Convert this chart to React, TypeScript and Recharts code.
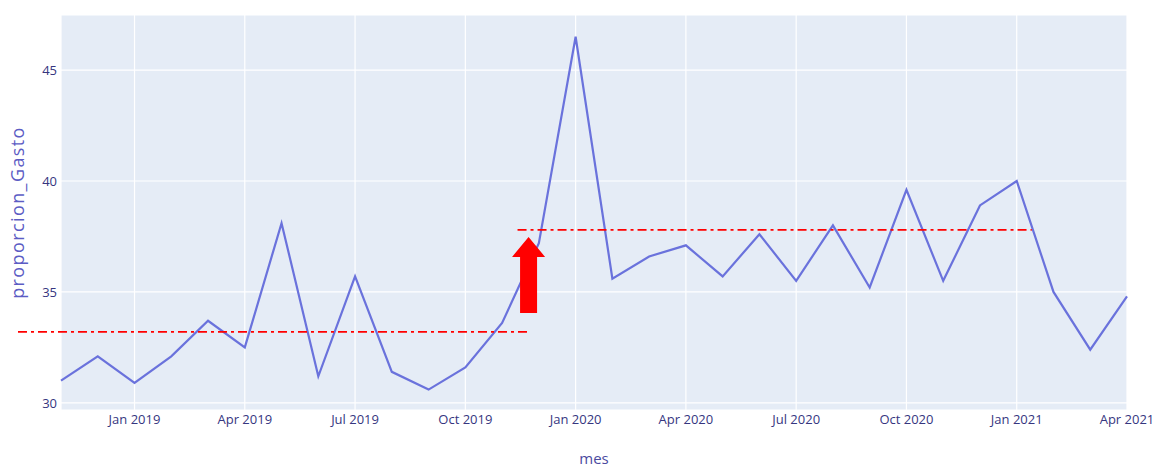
import { LineChart, Line, XAxis, YAxis, CartesianGrid, ReferenceLine, ReferenceDot } from 'recharts';

// months from Nov 2018 to Apr 2021
const months = [
  'Nov 2018', 'Dec 2018', 'Jan 2019', 'Feb 2019', 'Mar 2019', 'Apr 2019', 'May 2019', 'Jun 2019',
  'Jul 2019', 'Aug 2019', 'Sep 2019', 'Oct 2019', 'Nov 2019', 'Dec 2019', 'Jan 2020', 'Feb 2020',
  'Mar 2020', 'Apr 2020', 'May 2020', 'Jun 2020', 'Jul 2020', 'Aug 2020', 'Sep 2020', 'Oct 2020',
  'Nov 2020', 'Dec 2020', 'Jan 2021', 'Feb 2021', 'Mar 2021', 'Apr 2021',
];

const proporcionGasto = [
  31.0, 32.1, 30.9, 32.1, 33.7, 32.5, 38.1, 31.2,
  35.7, 31.4, 30.6, 31.6, 33.6, 37.2, 46.5, 35.6,
  36.6, 37.1, 35.7, 37.6, 35.5, 38.0, 35.2, 39.6,
  35.5, 38.9, 40.0, 35.0, 32.4, 34.8,
];

const xTicks = [2, 5, 8, 11, 14, 17, 20, 23, 26, 29];
const yTicks = [30, 35, 40, 45];

// mean level before / after the jump (annotations)
const meanBefore = { from: -1.17, to: 12.69, value: 33.2 };
const meanAfter = { from: 12.42, to: 26.41, value: 37.8 };
const arrowTip = { x: 12.72, y: 37.48 };

const data = months.map((mes, i) => ({ idx: i, mes, proporcion_Gasto: proporcionGasto[i] }));

const tickStyle = { fontFamily: 'Open Sans', fontSize: 13, fill: '#36367f' };

const Arrow = (props: any) => {
  const { cx, cy } = props;
  const pts = [
    [cx, cy],
    [cx + 16.5, cy + 20],
    [cx + 8.5, cy + 20],
    [cx + 8.5, cy + 76],
    [cx - 8.5, cy + 76],
    [cx - 8.5, cy + 20],
    [cx - 16.5, cy + 20],
  ].map((p) => p.join(',')).join(' ');
  return <polygon points={pts} fill="#ff0000" />;
};

const YTitle = (props: any) => {
  const vb = props.viewBox || { x: 0, y: 15, width: 61, height: 395 };
  const x = vb.x + 17;
  const y = vb.y + vb.height / 2;
  return (
    <text
      x={x}
      y={y}
      transform={`rotate(-90, ${x}, ${y})`}
      textAnchor="middle"
      dominantBaseline="central"
      fontFamily="Open Sans"
      fontSize={18}
      letterSpacing={1.4}
      fill="#5c5cc4"
    >
      proporcion_Gasto
    </text>
  );
};

export default function App() {
  return (
    <div style={{ position: 'absolute', left: 0, top: 0, background: '#fff' }}>
      <LineChart
        width={1155}
        height={468}
        data={data}
        margin={{ top: 15, right: 28, left: 0, bottom: 0 }}
      >
        <CartesianGrid fill="#e5ecf6" stroke="#ffffff" strokeWidth={1.2} />
        <XAxis
          dataKey="idx"
          type="number"
          domain={[0, 29]}
          ticks={xTicks}
          tickFormatter={(v) => months[v]}
          axisLine={false}
          tickLine={false}
          tickSize={0}
          tickMargin={5}
          height={58}
          tick={tickStyle}
          label={{ value: 'mes', position: 'insideBottom', offset: 4, style: { fontFamily: 'Open Sans', fontSize: 15, fill: '#4a4aa0' } }}
        />
        <YAxis
          type="number"
          domain={[29.68, 47.48]}
          ticks={yTicks}
          axisLine={false}
          tickLine={false}
          tickSize={0}
          tickMargin={4}
          width={61}
          tick={tickStyle}
          label={<YTitle />}
        />
        <Line
          type="linear"
          dataKey="proporcion_Gasto"
          stroke="#6a72dc"
          strokeWidth={2.2}
          dot={false}
          isAnimationActive={false}
        />
        <ReferenceLine
          segment={[{ x: meanBefore.from, y: meanBefore.value }, { x: meanBefore.to, y: meanBefore.value }]}
          stroke="#ff0000"
          strokeWidth={1.8}
          strokeDasharray="9 4 3 4"
          ifOverflow="visible"
        />
        <ReferenceLine
          segment={[{ x: meanAfter.from, y: meanAfter.value }, { x: meanAfter.to, y: meanAfter.value }]}
          stroke="#ff0000"
          strokeWidth={1.8}
          strokeDasharray="9 4 3 4"
          ifOverflow="visible"
        />
        <ReferenceDot x={arrowTip.x} y={arrowTip.y} r={1} ifOverflow="visible" shape={Arrow} />
      </LineChart>
    </div>
  );
}
